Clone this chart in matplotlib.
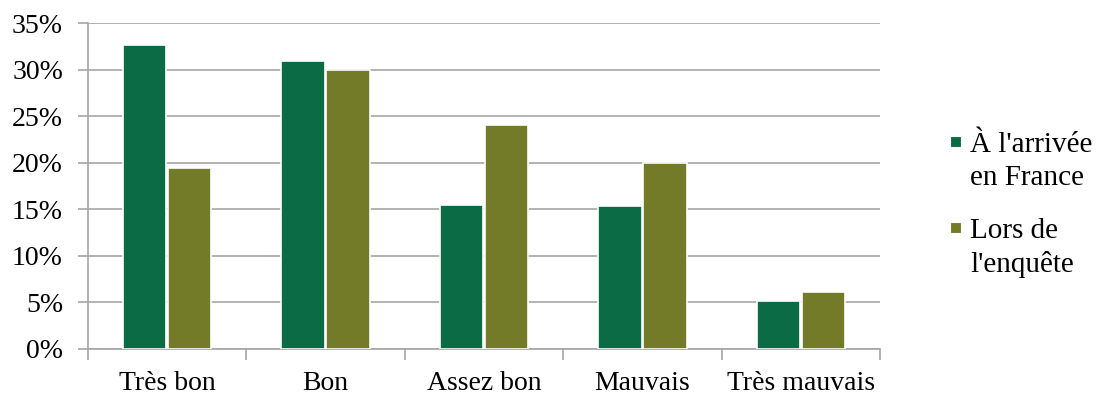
import matplotlib
matplotlib.use('Agg')
import matplotlib.pyplot as plt
import numpy as np
from matplotlib.ticker import FuncFormatter, FixedLocator
from matplotlib.patches import Rectangle

# etat de sante percu
categories = ["Très bon", "Bon", "Assez bon", "Mauvais", "Très mauvais"]
arrivee = [32.6, 30.9, 15.5, 15.4, 5.2]
enquete = [19.4, 30.0, 24.0, 20.0, 6.1]
series_labels = [["À l'arrivée", "en France"], ["Lors de", "l'enquête"]]

green = "#0B6B45"
olive = "#737B28"
grid_col = "#A6A6A6"
colors = [green, olive]

plt.rcParams['font.family'] = ['Liberation Serif', 'DejaVu Serif']

fig = plt.figure(figsize=(11.05, 3.97), dpi=100)
ax = fig.add_axes([0.0796, 0.121, 0.717, 0.821])

x = np.arange(len(categories))
w = 0.275
off = 0.142
ax.bar(x - off, arrivee, w, color=green, edgecolor='white', linewidth=1.2, zorder=3)
ax.bar(x + off, enquete, w, color=olive, edgecolor='white', linewidth=1.2, zorder=3)

ax.set_xlim(-0.5, len(categories) - 0.5)
ax.set_ylim(0, 35)
ax.set_yticks(np.arange(0, 36, 5))
ax.yaxis.set_major_formatter(FuncFormatter(lambda v, p: "%d%%" % v))
ax.yaxis.grid(True, color=grid_col, linewidth=1.2, zorder=0)
ax.set_axisbelow(True)

# ticks entre les categories, labels au centre
ax.set_xticks(x)
ax.set_xticklabels(categories, fontsize=20)
ax.tick_params(axis='x', which='major', length=0, pad=16)
ax.xaxis.set_minor_locator(FixedLocator(np.arange(-0.5, len(categories), 1)))
ax.tick_params(axis='x', which='minor', length=8, color=grid_col, width=1.2)
ax.tick_params(axis='y', length=7, color=grid_col, width=1.2, labelsize=20, pad=11)

for s in ['top', 'right']:
    ax.spines[s].set_visible(False)
for s in ['left', 'bottom']:
    ax.spines[s].set_color(grid_col)
    ax.spines[s].set_linewidth(1.2)

# legende a la main (carre aligne sur la premiere ligne)
W, H = 1105.0, 397.0
baselines = [(152, 185), (238, 272)]
for i, (lines, col) in enumerate(zip(series_labels, colors)):
    b1, b2 = baselines[i]
    fig.patches.append(Rectangle((950 / W, 1 - (b1 - 5) / H), 11 / W, 11 / H,
                                 transform=fig.transFigure, facecolor=col,
                                 edgecolor='white', linewidth=0.8))
    fig.text(970 / W, 1 - b1 / H, lines[0], fontsize=21, va='baseline')
    fig.text(970 / W, 1 - b2 / H, lines[1], fontsize=21, va='baseline')

fig.savefig("out.png", dpi=100)
